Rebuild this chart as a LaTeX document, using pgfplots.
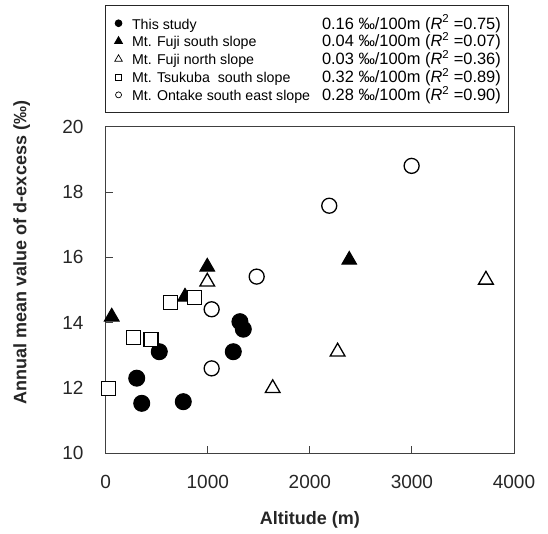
\documentclass[border=0pt]{standalone}
\usepackage{fontspec}
\setmainfont{Liberation Sans}
\usepackage{pgfplots}
\pgfplotsset{compat=1.18}
\newcommand{\rc}[1]{{\fontsize{16.4}{16}\selectfont #1}}
\begin{document}
\begin{tikzpicture}
\pgfplotsset{
  legmark/.style={only marks,
    legend image code/.code={\path (-4.5pt,0pt) (4.5pt,0pt); \draw[##1] plot[only marks] coordinates {(0pt,0pt)};}},
}
\begin{axis}[name=ax, width=408.3pt, height=326.6pt, scale only axis,
  xmin=0, xmax=4000, ymin=10, ymax=20,
  xtick={0,1000,2000,3000,4000}, ytick={10,12,14,16,18,20},
  tick align=inside, tick pos=left, major tick length=7pt,
  axis line style={draw=black!75, line width=1pt},
  tick style={draw=black!75, line width=1pt},
  /pgf/number format/assume math mode=true,
  /pgf/number format/1000 sep={},
  ticklabel style={font=\fontsize{19}{19}\selectfont, text=black!85, inner sep=0pt},
  xticklabel style={anchor=north, yshift=-22pt},
  yticklabel style={anchor=east, xshift=-22pt},
  xlabel={Altitude (m)},
  ylabel={Annual mean value of d-excess (‰)},
  label style={font=\bfseries\fontsize{18}{18}\selectfont, text=black!85},
  xlabel style={at={(axis description cs:0.5,-0.2042)}, anchor=center},
  ylabel style={at={(axis description cs:-0.2059,0.6148)}, anchor=center},
  legend style={at={(axis description cs:-0.0016,1.3726)}, anchor=north west,
    draw=black!85, line width=1pt, fill=white,
    inner xsep=8pt, inner ysep=10.5pt, row sep=3.4pt,
    font=\fontsize{14.2}{16}\selectfont,
    nodes={text height=13pt, text depth=1.5pt, inner sep=0pt},
    /tikz/every odd column/.style={column sep=8.5pt}},
  legend cell align=left,
]
\addplot[legmark, mark=*, mark size=8pt, draw=black, fill=black, line width=1pt,
  legend image post style={mark size=3.3pt}] coordinates {
  (525,13.11) (304,12.30) (353,11.53) (760,11.58) (1250,13.11) (1315,14.03) (1348,13.80)};
\addlegendentry{\makebox[190pt][l]{This study}\rc{0.16 ‰/100m (\textit{R}\textsuperscript{2} =0.75)}}
\addplot[legmark, mark=triangle*, mark size=8.5pt, draw=black, fill=black, line width=1pt,
  legend image post style={mark size=4.3pt}] coordinates {
  (59,14.18) (777,14.79) (995,15.71) (2386,15.92)};
\addlegendentry{\makebox[190pt][l]{Mt. Fuji south slope}\rc{0.04 ‰/100m (\textit{R}\textsuperscript{2} =0.07)}}
\addplot[legmark, mark=triangle*, mark size=8.5pt, draw=black, fill=white, line width=1.3pt,
  legend image post style={mark size=4.3pt, line width=0.7pt}] coordinates {
  (995,15.25) (1636,11.99) (2272,13.11) (3725,15.31)};
\addlegendentry{\makebox[190pt][l]{Mt. Fuji north slope}\rc{0.03 ‰/100m (\textit{R}\textsuperscript{2} =0.36)}}
\addplot[legmark, mark=square*, mark size=7pt, draw=black, fill=white, line width=1.3pt,
  legend image post style={mark size=3pt, line width=0.7pt}] coordinates {
  (25,11.99) (270,13.55) (444,13.49) (636,14.61) (868,14.78)};
\addlegendentry{\makebox[190pt][l]{Mt. Tsukuba\ \ south slope}\rc{0.32 ‰/100m (\textit{R}\textsuperscript{2} =0.89)}}
\addplot[legmark, mark=*, mark size=7.5pt, draw=black, fill=white, line width=1.3pt,
  legend image post style={mark size=3pt, line width=0.7pt}] coordinates {
  (1038,14.41) (1038,12.60) (1479,15.41) (2190,17.58) (2997,18.80)};
\addlegendentry{\makebox[190pt][l]{Mt. Ontake south east slope}\rc{0.28 ‰/100m (\textit{R}\textsuperscript{2} =0.90)}}
\end{axis}
\pgfresetboundingbox
\useasboundingbox ([xshift=-105.7pt,yshift=-80.7pt]ax.south west) rectangle ([xshift=34pt,yshift=126.7pt]ax.north east);
\end{tikzpicture}
\end{document}
